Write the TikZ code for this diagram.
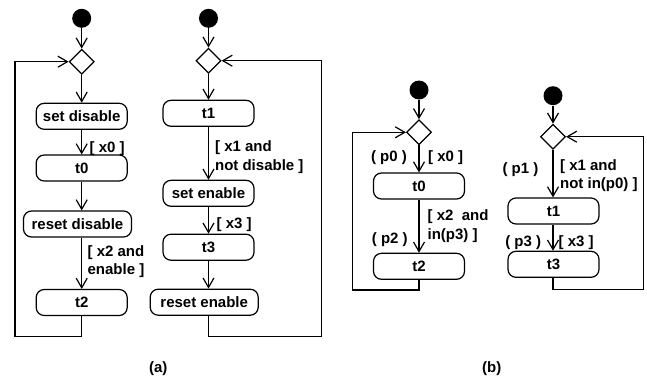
\documentclass[tikz,border=0pt]{standalone}
\usepackage{fontspec}
\setmainfont{Liberation Sans}
\usetikzlibrary{shapes.geometric}
\usetikzlibrary{arrows.meta}

\begin{document}
\begin{tikzpicture}[x=1pt,y=-1pt,line width=1.2pt,
	txt/.style={font=\fontsize{15}{18.5}\selectfont\bfseries,inner sep=0pt},
	act/.style={txt,draw,rectangle,rounded corners=8pt,minimum width=91pt,minimum height=26pt},
	wact/.style={act,minimum width=108pt},
	init/.style={circle,fill=black,minimum size=19pt,inner sep=0pt},
	dec/.style={diamond,draw,minimum width=25pt,minimum height=25pt,inner sep=0pt},
	arr/.style={-{Straight Barb[length=9.5pt,width=11pt]}}]

	\useasboundingbox (0,0) rectangle (647,378);

	% (a) first chart
	\node[init] (i1) at (81.7,18.3) {};
	\node[dec] (d1) at (81.7,61.7) {};
	\node[act] (sd) at (81.7,116.3) {set disable};
	\node[act] (ta0) at (81.7,168) {t0};
	\node[wact] (rd) at (77.5,224) {reset disable};
	\node[act] (ta2) at (81.7,302.5) {t2};
	\coordinate (la1) at (15,336.7);

	\node[txt,anchor=west] (ga0) at (89,149) {[ x0 ]};
	\node[txt,anchor=west,align=left] (ga2) at (87,261.7) {[ x2 and\\enable ]};

	\draw[arr] (i1) -- (d1);
	\draw[arr] (d1) -- (d1 |- sd.north);
	\draw[arr] (d1 |- sd.south) -- (d1 |- ta0.north);
	\draw[arr] (d1 |- ta0.south) -- (d1 |- rd.north);
	\draw[arr] (d1 |- rd.south) -- (d1 |- ta2.north);
	\draw[arr] (d1 |- ta2.south) |- (la1) |- (d1.west);

	% (a) second chart
	\node[init] (i2) at (208.5,18.3) {};
	\node[dec] (d2) at (208.5,60.7) {};
	\node[act] (ta1) at (208.5,113.3) {t1};
	\node[act] (se) at (208.5,193.3) {set enable};
	\node[act] (ta3) at (208.5,247.2) {t3};
	\node[wact] (re) at (204.2,302.2) {reset enable};
	\coordinate (la2) at (321.7,336.7);

	\node[txt,anchor=west,align=left] (ga1) at (214.5,157) {[ x1 and\\not disable ]};
	\node[txt,anchor=west] (ga3) at (216,225) {[ x3 ]};

	\draw[arr] (i2) -- (d2);
	\draw[arr] (d2) -- (d2 |- ta1.north);
	\draw[arr] (d2 |- ta1.south) -- (d2 |- se.north);
	\draw[arr] (d2 |- se.south) -- (d2 |- ta3.north);
	\draw[arr] (d2 |- ta3.south) -- (d2 |- re.north);
	\draw[arr] (d2 |- re.south) |- (la2) |- (d2.east);

	% (b) first chart
	\node[init] (i3) at (419,90) {};
	\node[dec] (d3) at (419,132.3) {};
	\node[act] (tb0) at (419,186) {t0};
	\node[act] (tb2) at (419,266.3) {t2};
	\coordinate (lb1) at (352.7,290);

	\node[txt,anchor=east] (p0) at (407.5,157.3) {( p0 )};
	\node[txt,anchor=west] (gb0) at (427.5,157.3) {[ x0 ]};
	\node[txt,anchor=west,align=left] (gb2) at (427,226) {[ x2\ \ and\\in(p3) ]};
	\node[txt,anchor=east] (p2) at (408.3,240) {( p2 )};

	\draw[arr] (i3) -- (d3);
	\draw[arr] (d3) -- (d3 |- tb0.north);
	\draw[arr] (d3 |- tb0.south) -- (d3 |- tb2.north);
	\draw[arr] (d3 |- tb2.south) |- (lb1) |- (d3.west);

	% (b) second chart
	\node[init] (i4) at (553,95.7) {};
	\node[dec] (d4) at (553,136.7) {};
	\node[act] (tb1) at (553.5,211) {t1};
	\node[act] (tb3) at (553.5,264.3) {t3};
	\coordinate (lb2) at (643.3,289.3);

	\node[txt,anchor=east] (p1) at (539,170) {( p1 )};
	\node[txt,anchor=west,align=left] (gb1) at (559.5,175.5) {[ x1 and\\not in(p0) ]};
	\node[txt,anchor=east] (p3) at (541.7,242.7) {( p3 )};
	\node[txt,anchor=west] (gb3) at (558,242.7) {[ x3 ]};

	\draw[arr] (i4) -- (d4);
	\draw[arr] (d4) -- (d4 |- tb1.north);
	\draw[arr] (d4 |- tb1.south) -- (d4 |- tb3.north);
	\draw[arr] (d4 |- tb3.south) |- (lb2) |- (d4.east);

	\node[txt] (capa) at (158.3,369) {(a)};
	\node[txt] (capb) at (491.7,369) {(b)};
\end{tikzpicture}
\end{document}
